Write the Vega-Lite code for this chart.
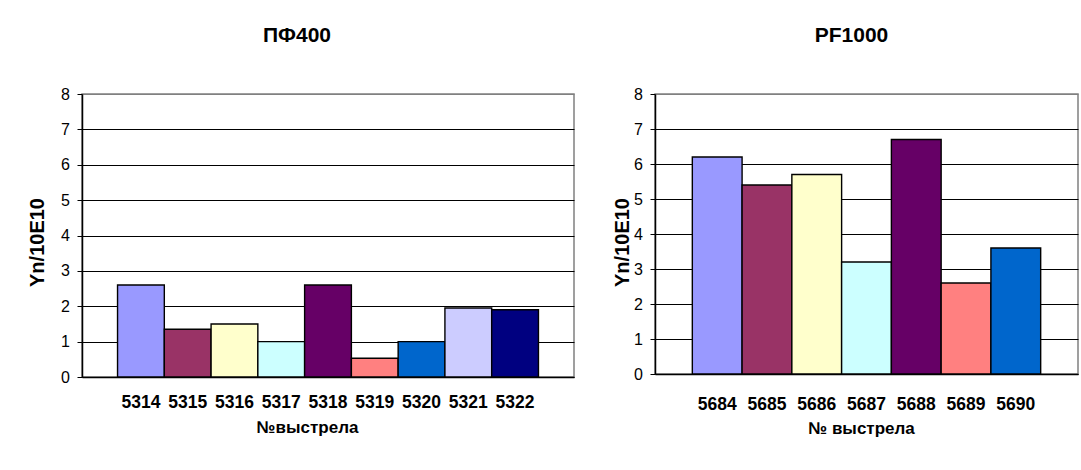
{
  "$schema": "https://vega.github.io/schema/vega-lite/v6.json",
  "background": "white",
  "padding": {"left": 26, "top": 24, "right": 0, "bottom": 0},
  "spacing": 81,
  "bounds": "flush",
  "config": {
    "font": "Liberation Sans",
    "view": {"stroke": "#808080", "strokeWidth": 1.5},
    "title": {"font": "Liberation Sans", "fontSize": 21, "fontWeight": "bold", "color": "black", "anchor": "middle"},
    "axis": {
      "labelFont": "Liberation Sans",
      "titleFont": "Liberation Sans",
      "labelColor": "black",
      "titleColor": "black",
      "domainColor": "black",
      "domainWidth": 1.5,
      "tickColor": "black"
    },
    "bar": {"stroke": "black", "strokeWidth": 1.4}
  },
  "hconcat": [
    {
      "width": 492,
      "height": 283,
      "title": {"text": "ПФ400", "dx": -31, "offset": 40},
      "data": {
        "values": [
          {"shot": "5314", "yn": 2.6},
          {"shot": "5315", "yn": 1.35},
          {"shot": "5316", "yn": 1.5},
          {"shot": "5317", "yn": 1.0},
          {"shot": "5318", "yn": 2.6},
          {"shot": "5319", "yn": 0.53},
          {"shot": "5320", "yn": 1.0},
          {"shot": "5321", "yn": 1.95},
          {"shot": "5322", "yn": 1.9}
        ]
      },
      "mark": {"type": "bar"},
      "encoding": {
        "x": {
          "field": "shot",
          "type": "nominal",
          "sort": null,
          "scale": {"paddingInner": 0, "paddingOuter": 0.76},
          "axis": {
            "title": "№выстрела", "labelPadding": 16, "titleX": 225, "titleY": 50,
            "ticks": false, "labelAngle": 0, "labelFontSize": 17.5, "labelFontWeight": "bold",
            "titleFontSize": 17, "titleFontWeight": "bold", "titleAlign": "center", "titleBaseline": "middle", "grid": false
          }
        },
        "y": {
          "field": "yn",
          "type": "quantitative",
          "scale": {"domain": [0, 8], "nice": false},
          "axis": {
            "title": "Yn/10E10", "values": [0, 1, 2, 3, 4, 5, 6, 7, 8], "titleX": -45, "titleY": 148,
            "labelFontSize": 16, "labelFontWeight": "normal", "labelPadding": 7.5, "tickSize": 5,
            "titleFontSize": 20, "titleFontWeight": "bold", "titleAngle": -90, "titleAlign": "center", "titleBaseline": "middle",
            "grid": true, "gridColor": {"condition": {"test": "datum.value === 8", "value": "#808080"}, "value": "black"},
            "gridWidth": 1, "gridOpacity": 1
          }
        },
        "color": {
          "field": "shot",
          "type": "nominal",
          "scale": {
            "domain": ["5314", "5315", "5316", "5317", "5318", "5319", "5320", "5321", "5322"],
            "range": ["#9999FF", "#993366", "#FFFFCC", "#CCFFFF", "#660066", "#FF8080", "#0066CC", "#CCCCFF", "#000080"]
          },
          "legend": null
        }
      }
    },
    {
      "width": 423,
      "height": 280,
      "title": {"text": "PF1000", "dx": -15, "offset": 40},
      "data": {
        "values": [
          {"shot": "5684", "yn": 6.2},
          {"shot": "5685", "yn": 5.4},
          {"shot": "5686", "yn": 5.7},
          {"shot": "5687", "yn": 3.2},
          {"shot": "5688", "yn": 6.7},
          {"shot": "5689", "yn": 2.6},
          {"shot": "5690", "yn": 3.6}
        ]
      },
      "mark": {"type": "bar"},
      "encoding": {
        "x": {
          "field": "shot",
          "type": "nominal",
          "sort": null,
          "scale": {"paddingInner": 0, "paddingOuter": 0.75},
          "axis": {
            "title": "№ выстрела", "labelPadding": 21, "titleX": 206, "titleY": 54,
            "ticks": false, "labelAngle": 0, "labelFontSize": 17.5, "labelFontWeight": "bold",
            "titleFontSize": 17, "titleFontWeight": "bold", "titleAlign": "center", "titleBaseline": "middle", "grid": false
          }
        },
        "y": {
          "field": "yn",
          "type": "quantitative",
          "scale": {"domain": [0, 8], "nice": false},
          "axis": {
            "title": "Yn/10E10", "values": [0, 1, 2, 3, 4, 5, 6, 7, 8], "titleX": -33, "titleY": 148,
            "labelFontSize": 16, "labelFontWeight": "normal", "labelPadding": 7.5, "tickSize": 5,
            "titleFontSize": 20, "titleFontWeight": "bold", "titleAngle": -90, "titleAlign": "center", "titleBaseline": "middle",
            "grid": true, "gridColor": {"condition": {"test": "datum.value === 8", "value": "#808080"}, "value": "black"},
            "gridWidth": 1, "gridOpacity": 1
          }
        },
        "color": {
          "field": "shot",
          "type": "nominal",
          "scale": {
            "domain": ["5684", "5685", "5686", "5687", "5688", "5689", "5690"],
            "range": ["#9999FF", "#993366", "#FFFFCC", "#CCFFFF", "#660066", "#FF8080", "#0066CC"]
          },
          "legend": null
        }
      }
    }
  ],
  "resolve": {"scale": {"x": "independent", "y": "independent", "color": "independent"}}
}
